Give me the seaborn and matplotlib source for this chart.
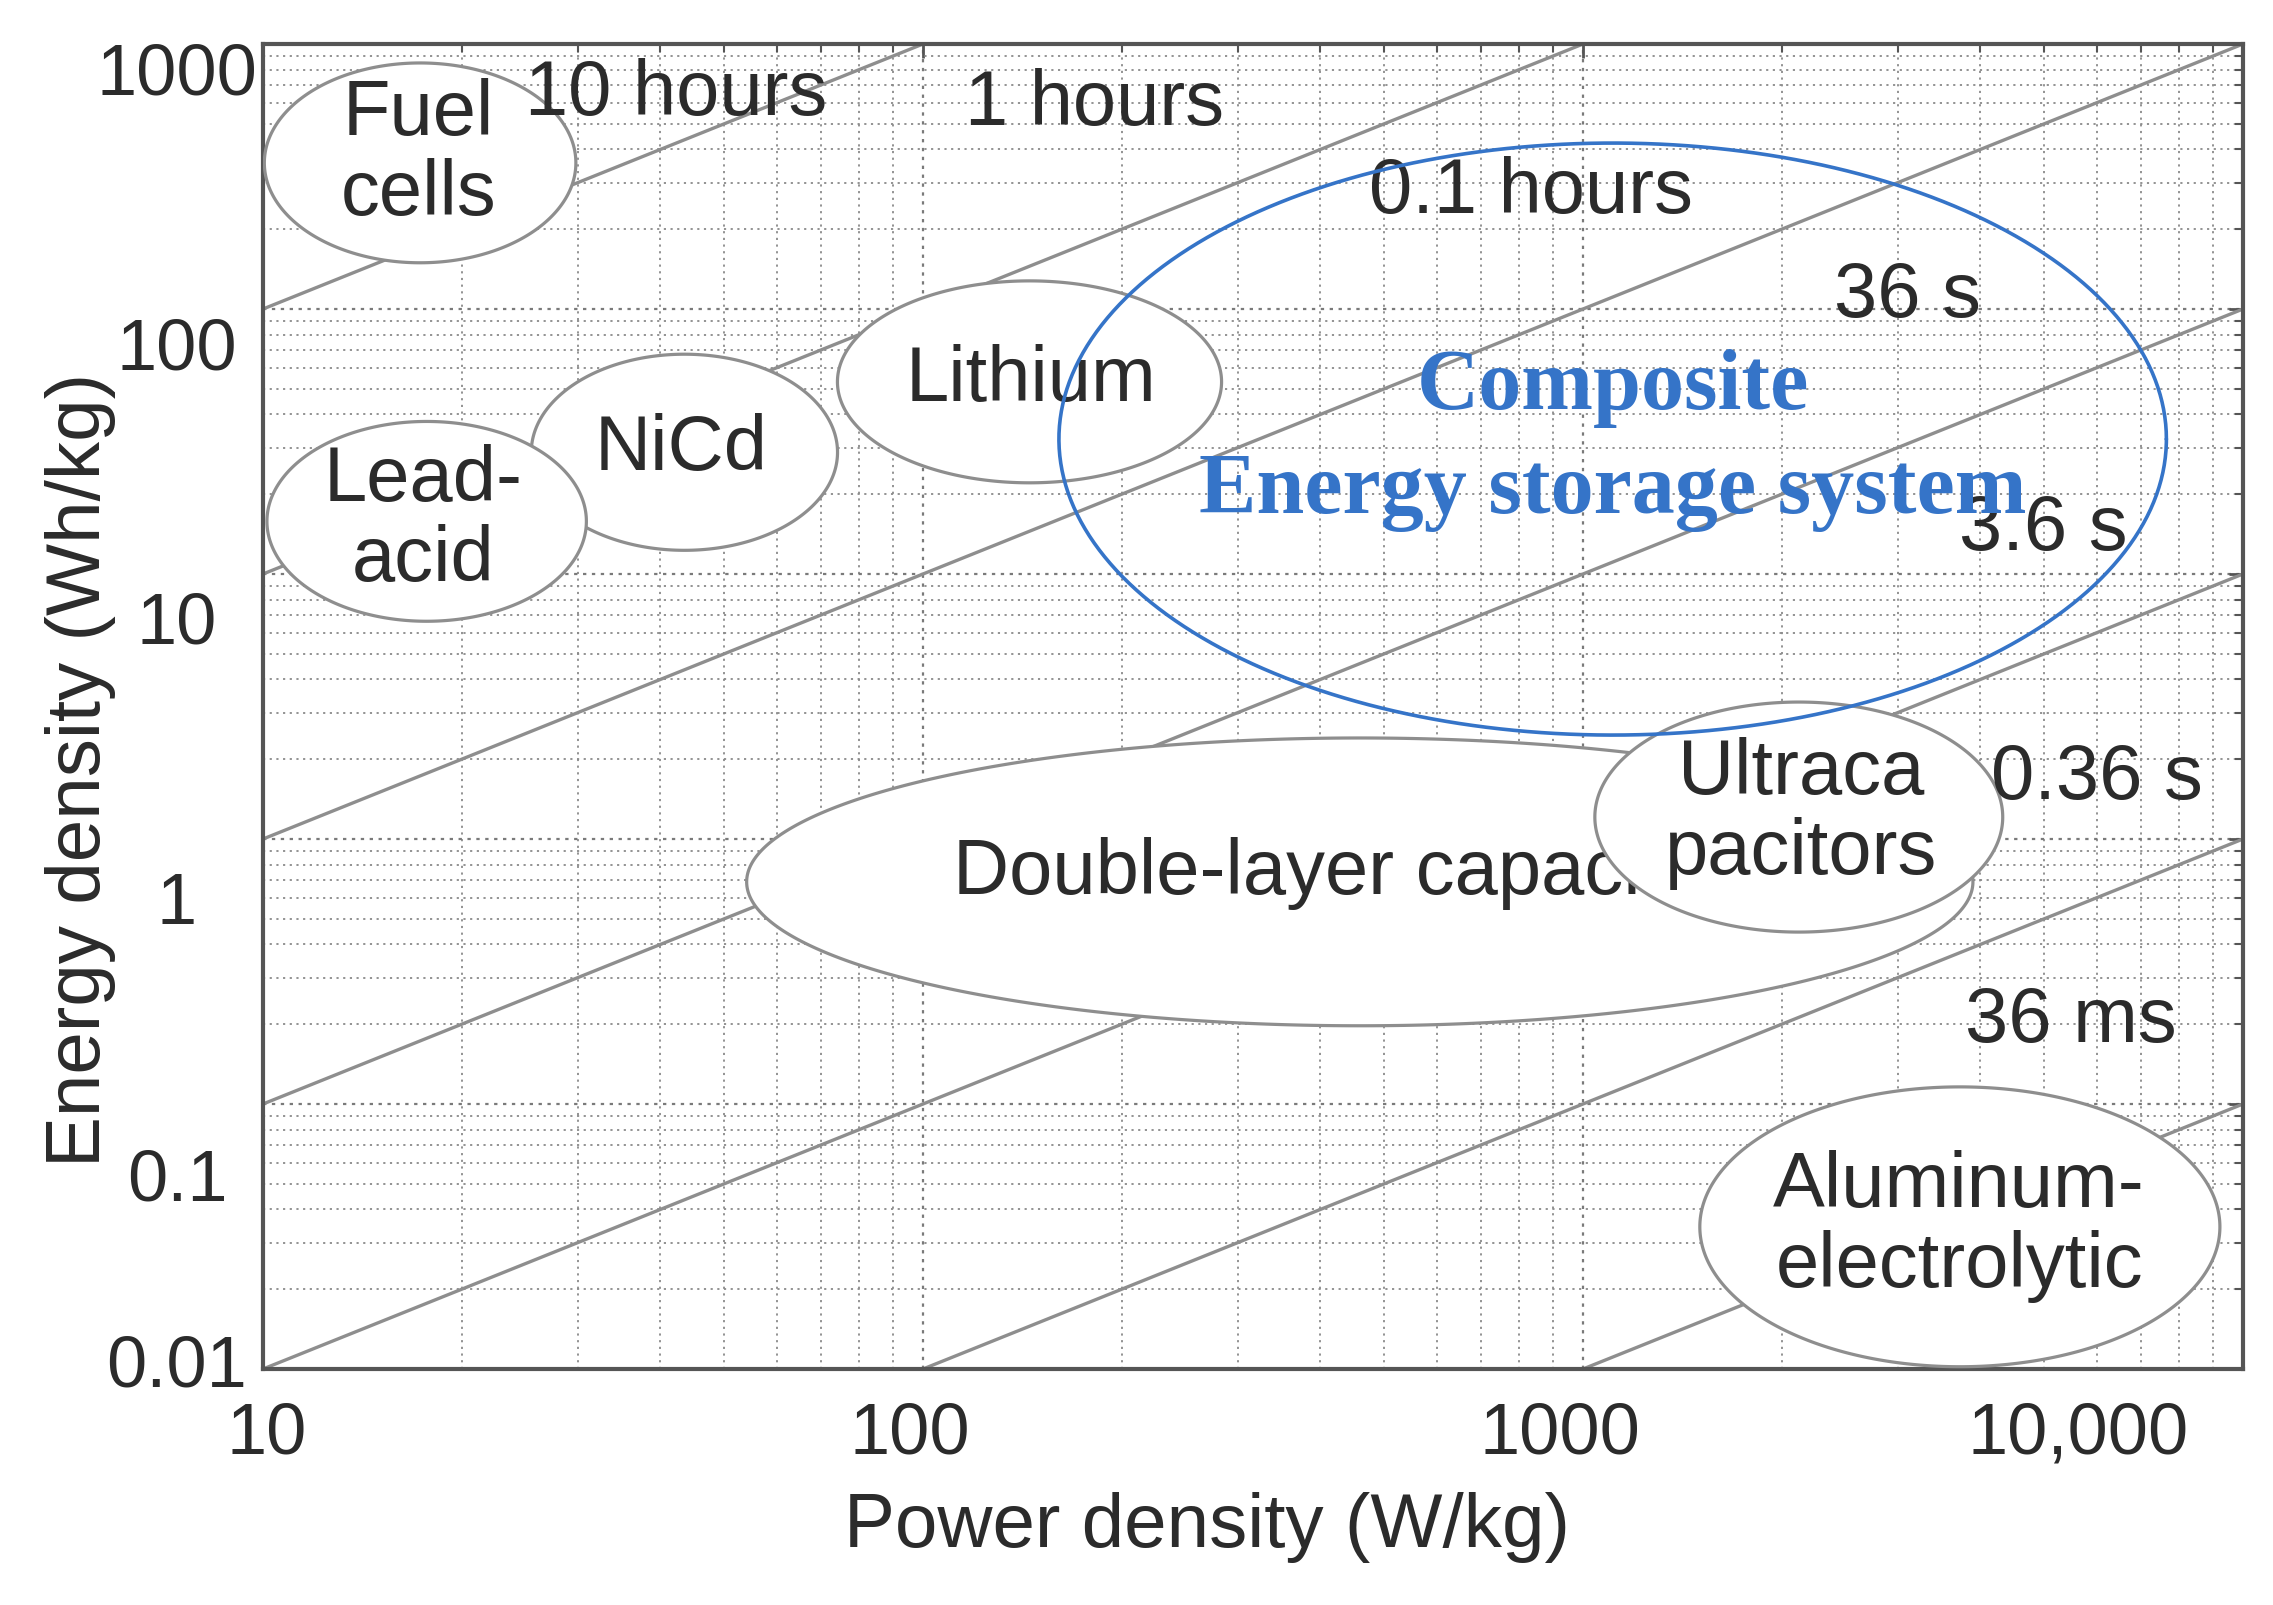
import numpy as np
import pandas as pd
import matplotlib
matplotlib.use("Agg")
import matplotlib.pyplot as plt
import matplotlib.transforms as mtransforms
from matplotlib.ticker import NullFormatter, LogLocator
import seaborn as sns

# ---------------- data ----------------
x_ticks = [10, 100, 1000, 10000]
x_tick_labels = ["10", "100", "1000", "10,000"]
y_ticks = [0.01, 0.1, 1, 10, 100, 1000]
y_tick_labels = ["0.01", "0.1", "1", "10", "100", "1000"]

# constant discharge-time lines (hours) and their labels
discharge_hours = [10, 1, 0.1, 0.01, 0.001, 0.0001, 0.00001]
discharge_labels = ["10 hours", "1 hours", "0.1 hours", "36 s", "3.6 s", "0.36 s", "36 ms"]
label_power = [42.3, 182, 834, 3105, 4989, 6012, 5483]
label_energy = [653, 598, 277, 112, 14.9, 1.71, 0.206]

# technology regions (ellipses in log-decade units)
tech_names = ["Fuel\ncells", "NiCd", "Lead-\nacid", "Lithium",
              "Double-layer capacitors", "Ultraca\npacitors", "Aluminum-\nelectrolytic"]
tech_power = [17.3, 43.5, 17.7, 145, 459, 2123, 3724]
tech_energy = [356, 28.8, 15.8, 53.1, 0.689, 1.21, 0.0344]
tech_halfwidth_dec = [0.236, 0.232, 0.242, 0.291, 0.929, 0.309, 0.394]
tech_halfheight_dec = [0.377, 0.370, 0.377, 0.381, 0.543, 0.434, 0.528]
tech_text_power = [17.2, 43.0, 17.5, 146, 111, 2138, 3715]
tech_text_energy = [385, 29.8, 16.1, 54.0, 0.745, 1.26, 0.0349]
tech_text_align = ["center", "center", "center", "center", "left", "center", "center"]

composite_power = 1109
composite_energy = 32.3
composite_halfwidth_dec = 0.839
composite_halfheight_dec = 1.117
composite_lines = ["Composite", "Energy storage system"]
composite_text_energy = [50.4, 20.4]

x_limits = (10, 10000)
y_limits = (0.01, 1000)

# ---------------- style ----------------
sns.set_theme(style="white")
plt.rcParams["font.family"] = ["Liberation Sans", "DejaVu Sans"]

TXT = "#2b2b2b"
GREY = "#8e8e8e"
BLUE = "#3574C8"

fig = plt.figure(figsize=(22.73, 16.06), dpi=100)
ax = fig.add_axes([263 / 2273, 1 - 1370 / 1606, 1980 / 2273, 1325 / 1606])
ax.set_xscale("log")
ax.set_yscale("log")

# time lines
rows = []
for lab, h in zip(discharge_labels, discharge_hours):
    for p in x_limits:
        rows.append({"line": lab, "P": p, "E": p * h})
df = pd.DataFrame(rows)
sns.lineplot(data=df, x="P", y="E", units="line", estimator=None, color=GREY,
             lw=2.4, ax=ax, legend=False, zorder=2)

# time labels
for lab, p, e in zip(discharge_labels, label_power, label_energy):
    ax.text(p, e, lab, ha="center", va="center", fontsize=56, color=TXT, zorder=40)

# technology ellipses
t = np.linspace(0, 2 * np.pi, 500)
for i, (name, p, e, hw, hh, tp, te, al) in enumerate(zip(
        tech_names, tech_power, tech_energy, tech_halfwidth_dec, tech_halfheight_dec,
        tech_text_power, tech_text_energy, tech_text_align)):
    lx = np.log10(p) + hw * np.cos(t)
    ly = np.log10(e) + hh * np.sin(t)
    ax.fill(10 ** lx, 10 ** ly, facecolor="white", edgecolor=GREY, lw=2.3, zorder=5 + 2 * i)
    ax.text(tp, te, name, ha=al, va="center", multialignment="center",
            fontsize=56, color=TXT, linespacing=1.12, zorder=6 + 2 * i)

# composite ellipse (blue)
lx = np.log10(composite_power) + composite_halfwidth_dec * np.cos(t)
ly = np.log10(composite_energy) + composite_halfheight_dec * np.sin(t)
ax.plot(10 ** lx, 10 ** ly, color=BLUE, lw=2.6, zorder=50)
for line, e in zip(composite_lines, composite_text_energy):
    ax.text(composite_power, e, line, ha="center", va="center", fontsize=62,
            fontweight="bold", color=BLUE, family=["Liberation Serif", "DejaVu Serif"],
            zorder=51)

# axes, ticks, grid
ax.set_xlim(*x_limits)
ax.set_ylim(*y_limits)
ax.set_xticks(x_ticks, x_tick_labels)
ax.set_yticks(y_ticks, y_tick_labels)
ax.xaxis.set_minor_locator(LogLocator(base=10, subs=np.arange(2, 10)))
ax.yaxis.set_minor_locator(LogLocator(base=10, subs=np.arange(2, 10)))
ax.xaxis.set_minor_formatter(NullFormatter())
ax.yaxis.set_minor_formatter(NullFormatter())

ax.grid(which="major", linestyle=(0, (1.5, 2.5)), color="#7a7a7a", lw=1.6, zorder=0)
ax.grid(which="minor", linestyle=(0, (1.2, 2.5)), color="#8a8a8a", lw=1.3, zorder=0)
ax.set_axisbelow(True)
ax.tick_params(which="both", direction="in", top=True, right=True, color="#555555")
ax.tick_params(which="major", length=10, width=2)
ax.tick_params(which="minor", length=6, width=1.5)
ax.tick_params(axis="x", which="major", pad=23, labelsize=52, labelcolor=TXT)
ax.tick_params(axis="y", which="major", pad=62, labelsize=52, labelcolor=TXT)

for sp in ax.spines.values():
    sp.set_color("#555555")
    sp.set_linewidth(3)

# individual tick label offsets (pixels) to mimic the original layout
x_off = [4, -13, -23, -165]
y_off = [-9, 70, 58, 42, 33, 23]
for tick, dx in zip(ax.xaxis.get_major_ticks(), x_off):
    tick.label1.set_transform(tick.label1.get_transform() +
                              mtransforms.ScaledTranslation(dx / 100, 0, fig.dpi_scale_trans))
for tick, dy in zip(ax.yaxis.get_major_ticks(), y_off):
    tick.label1.set_horizontalalignment("center")
    tick.label1.set_transform(tick.label1.get_transform() +
                              mtransforms.ScaledTranslation(0, -dy / 100, fig.dpi_scale_trans))

ax.set_xlabel("Power density (W/kg)", fontsize=55, color=TXT)
ax.set_ylabel("Energy density (Wh/kg)", fontsize=55, color=TXT)
ax.xaxis.label.set_va("center")
ax.yaxis.label.set_va("center")
ax.xaxis.set_label_coords(0.477, -0.1185)
ax.yaxis.set_label_coords(-0.0924, 0.453)

fig.savefig("out.png", dpi=100)
